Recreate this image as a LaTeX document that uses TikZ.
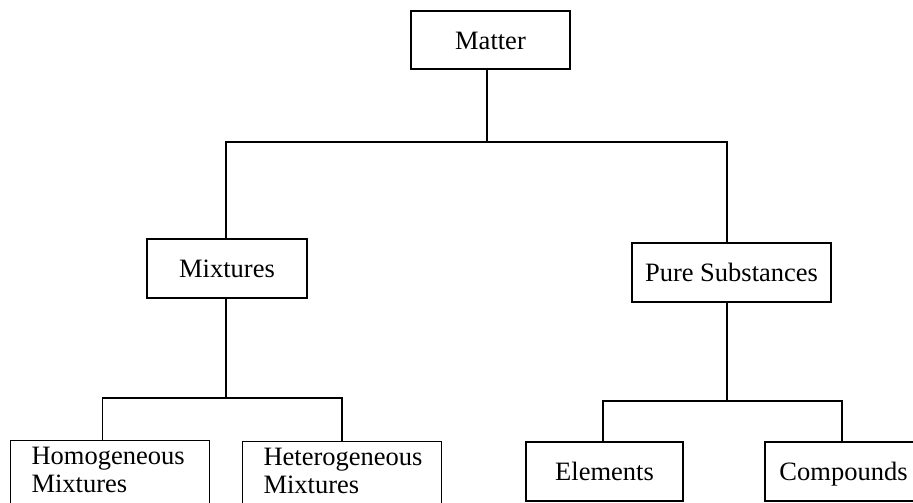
\documentclass[tikz,border=0pt]{standalone}
\usepackage{fontspec}
\setmainfont{Liberation Serif}
\begin{document}
\begin{tikzpicture}[x=1pt,y=-1pt,
  box/.style={draw=black, line width=1.1pt, rectangle, font=\fontsize{26.5}{28}\selectfont, inner sep=0pt},
  cbox/.style={box, text height=18pt, text depth=0pt, minimum height=59pt},
  conn/.style={draw=black, line width=1.7pt}]
\useasboundingbox (0,0) rectangle (913,503);
\clip (0,0) rectangle (913,503);
% nodes
\node[cbox, minimum width=159pt, minimum height=58pt] (matter) at (490.5,40) {Matter};
\node[cbox, minimum width=160pt] (mix) at (227,268.5) {Mixtures};
\node[cbox, minimum width=199pt] (pure) at (731.5,272.5) {Pure Substances};
\node[box, anchor=north west, inner ysep=7pt, text width=199pt, align=left] (homo) at (10,440)
  {\hspace*{21pt}Homogeneous\\\hspace*{21pt}Mixtures\rule[-40pt]{0pt}{0pt}};
\node[box, anchor=north west, inner ysep=7pt, text width=199pt, align=left] (hetero) at (242,441)
  {\hspace*{21pt}Heterogeneous\\\hspace*{21pt}Mixtures\rule[-40pt]{0pt}{0pt}};
\node[cbox, minimum width=157pt] (elem) at (604.5,471.5) {Elements};
\node[cbox, minimum width=157pt] (comp) at (843.5,471.5) {Compounds};
% bus coordinates
\coordinate (busA) at (487,142);
\coordinate (busB) at (226,398);
\coordinate (busC) at (727,401);
% connectors
\draw[conn] ([xshift=-3.5pt]matter.south) -- (busA);
\draw[conn] (busA) -| ([xshift=-1pt]mix.north);
\draw[conn] (busA) -| ([xshift=-4.5pt]pure.north);
\draw[conn] ([xshift=-1pt]mix.south) -- (busB);
\draw[conn] (busB) -| ([xshift=-7.5pt]homo.north);
\draw[conn] (busB) -| (hetero.north);
\draw[conn] ([xshift=-4.5pt]pure.south) -- (busC);
\draw[conn] (busC) -| ([xshift=-1.5pt]elem.north);
\draw[conn] (busC) -| ([xshift=-1.5pt]comp.north);
\end{tikzpicture}
\end{document}
